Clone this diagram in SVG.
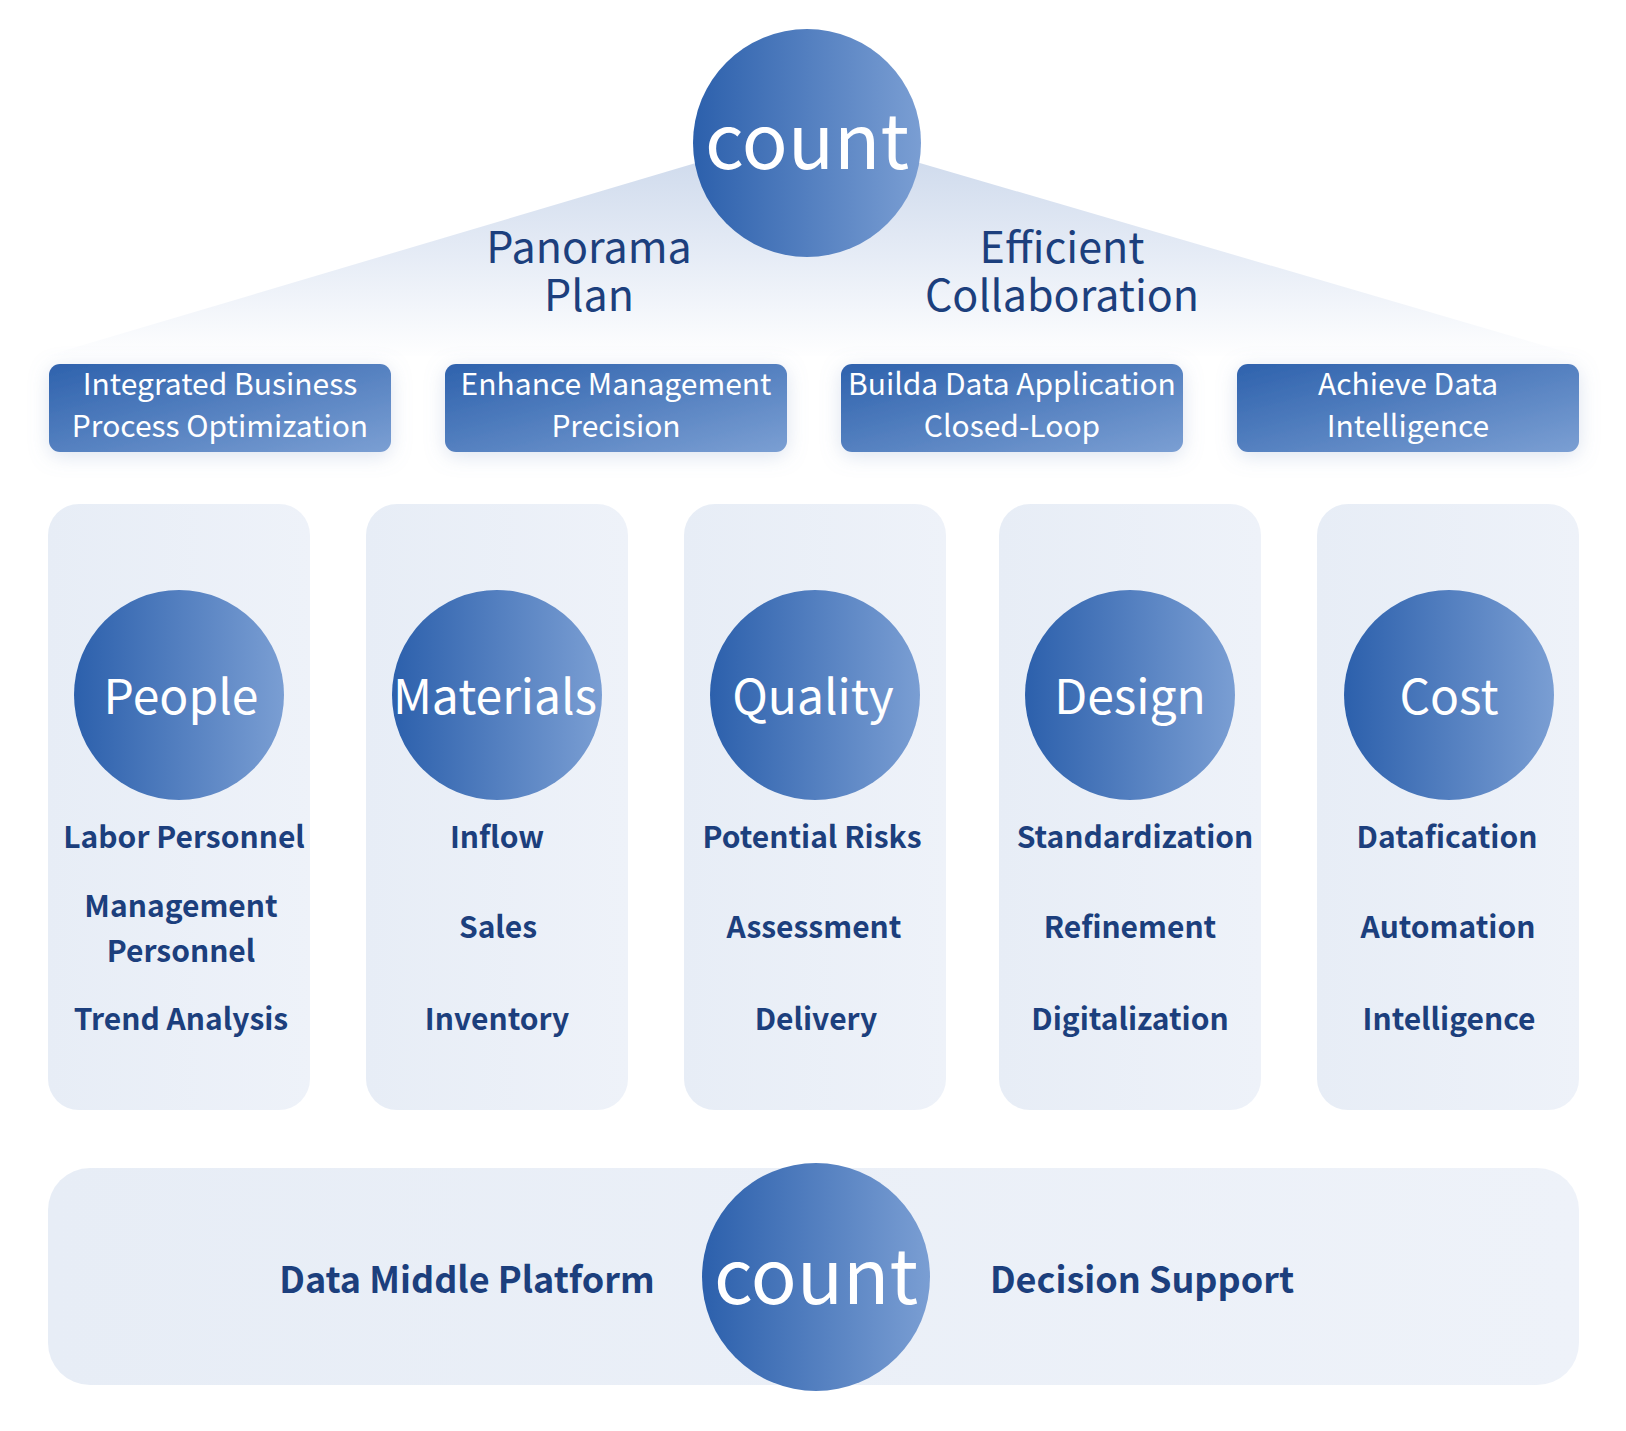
<svg xmlns="http://www.w3.org/2000/svg" width="1626" height="1431" viewBox="0 0 1626 1431">
  <defs>
    <linearGradient id="blueOrb" x1="0" y1="0" x2="1" y2="0">
      <stop offset="0" stop-color="#2C60AC"/>
      <stop offset="1" stop-color="#7A9ED3"/>
    </linearGradient>
    <linearGradient id="blueBox" x1="0" y1="0" x2="1" y2="1">
      <stop offset="0" stop-color="#2E62AD"/>
      <stop offset="1" stop-color="#7B9FD3"/>
    </linearGradient>
    <linearGradient id="roof" x1="0" y1="130" x2="0" y2="360" gradientUnits="userSpaceOnUse">
      <stop offset="0" stop-color="#C9D6EA"/>
      <stop offset="0.55" stop-color="#E6ECF6"/>
      <stop offset="1" stop-color="#FFFFFF"/>
    </linearGradient>
    <linearGradient id="panel" x1="0" y1="0" x2="1" y2="0">
      <stop offset="0" stop-color="#E7EDF6"/>
      <stop offset="1" stop-color="#EEF2F9"/>
    </linearGradient>
    <filter id="glow" x="-20%" y="-60%" width="140%" height="220%">
      <feDropShadow dx="0" dy="4" stdDeviation="10" flood-color="#8CA3CC" flood-opacity="0.3"/>
    </filter>
    <style>
      .orb { fill: url(#blueOrb); }
      .box { fill: url(#blueBox); filter: url(#glow); }
      .panel { fill: url(#panel); }
      .boxText { font-family: "Noto Sans CJK SC", "Noto Sans", sans-serif; font-size: 30px; fill: #FFFFFF; text-anchor: middle; }
      .orbText { font-family: "Noto Sans CJK SC", "Noto Sans", sans-serif; font-size: 48px; fill: #FFFFFF; text-anchor: middle; }
      .bigText { font-family: "Noto Sans CJK SC", "Noto Sans", sans-serif; font-size: 76px; fill: #FFFFFF; text-anchor: middle; }
      .headText { font-family: "Noto Sans CJK SC", "Noto Sans", sans-serif; font-size: 43px; fill: #1C3F7D; text-anchor: middle; }
      .item { font-family: "Noto Sans CJK SC", "Noto Sans", sans-serif; font-size: 30px; font-weight: 700; fill: #1C3F7D; text-anchor: middle; }
      .base { font-family: "Noto Sans CJK SC", "Noto Sans", sans-serif; font-size: 36px; font-weight: 700; fill: #1C3F7D; text-anchor: middle; }
    </style>
  </defs>

  <rect width="1626" height="1431" fill="#FFFFFF"/>

  <!-- roof fan spreading down from the top hub -->
  <polygon points="807,130 1580,356 46,356" fill="url(#roof)"/>

  <!-- top hub -->
  <g id="top-hub">
    <circle class="orb" cx="807" cy="143" r="114"/>
    <text class="bigText" x="807" y="169">count</text>
  </g>

  <g id="label-panorama">
    <text class="headText" x="589" y="263">Panorama</text>
    <text class="headText" x="589" y="311">Plan</text>
  </g>
  <g id="label-collaboration">
    <text class="headText" x="1062" y="263">Efficient</text>
    <text class="headText" x="1062" y="311">Collaboration</text>
  </g>

  <!-- goal boxes -->
  <g id="goal-1">
    <rect class="box" x="49" y="364" width="342" height="88" rx="11"/>
    <text class="boxText" x="220" y="395">Integrated Business</text>
    <text class="boxText" x="220" y="437">Process Optimization</text>
  </g>
  <g id="goal-2">
    <rect class="box" x="445" y="364" width="342" height="88" rx="11"/>
    <text class="boxText" x="616" y="395">Enhance Management</text>
    <text class="boxText" x="616" y="437">Precision</text>
  </g>
  <g id="goal-3">
    <rect class="box" x="841" y="364" width="342" height="88" rx="11"/>
    <text class="boxText" x="1012" y="395">Builda Data Application</text>
    <text class="boxText" x="1012" y="437">Closed-Loop</text>
  </g>
  <g id="goal-4">
    <rect class="box" x="1237" y="364" width="342" height="88" rx="11"/>
    <text class="boxText" x="1408" y="395">Achieve Data</text>
    <text class="boxText" x="1408" y="437">Intelligence</text>
  </g>

  <!-- pillars -->
  <g id="pillar-people">
    <rect class="panel" x="48" y="504" width="262" height="606" rx="31"/>
    <circle class="orb" cx="179" cy="695" r="105"/>
    <text class="orbText" x="181" y="714">People</text>
    <text class="item" x="184" y="848">Labor Personnel</text>
    <text class="item" x="181" y="917">Management</text>
    <text class="item" x="181" y="962">Personnel</text>
    <text class="item" x="181" y="1030">Trend Analysis</text>
  </g>
  <g id="pillar-materials">
    <rect class="panel" x="366" y="504" width="262" height="606" rx="31"/>
    <circle class="orb" cx="497" cy="695" r="105"/>
    <text class="orbText" x="495" y="714">Materials</text>
    <text class="item" x="497" y="848">Inflow</text>
    <text class="item" x="498" y="938">Sales</text>
    <text class="item" x="497" y="1030">Inventory</text>
  </g>
  <g id="pillar-quality">
    <rect class="panel" x="684" y="504" width="262" height="606" rx="31"/>
    <circle class="orb" cx="815" cy="695" r="105"/>
    <text class="orbText" x="813" y="714">Quality</text>
    <text class="item" x="812" y="848">Potential Risks</text>
    <text class="item" x="814" y="938">Assessment</text>
    <text class="item" x="816" y="1030">Delivery</text>
  </g>
  <g id="pillar-design">
    <rect class="panel" x="999" y="504" width="262" height="606" rx="31"/>
    <circle class="orb" cx="1130" cy="695" r="105"/>
    <text class="orbText" x="1130" y="714">Design</text>
    <text class="item" x="1135" y="848">Standardization</text>
    <text class="item" x="1130" y="938">Refinement</text>
    <text class="item" x="1130" y="1030">Digitalization</text>
  </g>
  <g id="pillar-cost">
    <rect class="panel" x="1317" y="504" width="262" height="606" rx="31"/>
    <circle class="orb" cx="1449" cy="695" r="105"/>
    <text class="orbText" x="1449" y="714">Cost</text>
    <text class="item" x="1447" y="848">Datafication</text>
    <text class="item" x="1448" y="938">Automation</text>
    <text class="item" x="1449" y="1030">Intelligence</text>
  </g>

  <!-- foundation band -->
  <g id="foundation">
    <rect class="panel" x="48" y="1168" width="1531" height="217" rx="42"/>
    <text class="base" x="467" y="1293">Data Middle Platform</text>
    <text class="base" x="1142" y="1293">Decision Support</text>
  </g>
  <g id="bottom-hub">
    <circle class="orb" cx="816" cy="1277" r="114"/>
    <text class="bigText" x="816" y="1304">count</text>
  </g>

  <!-- no connectors between nodes -->
  <g id="connectors"/>
</svg>
